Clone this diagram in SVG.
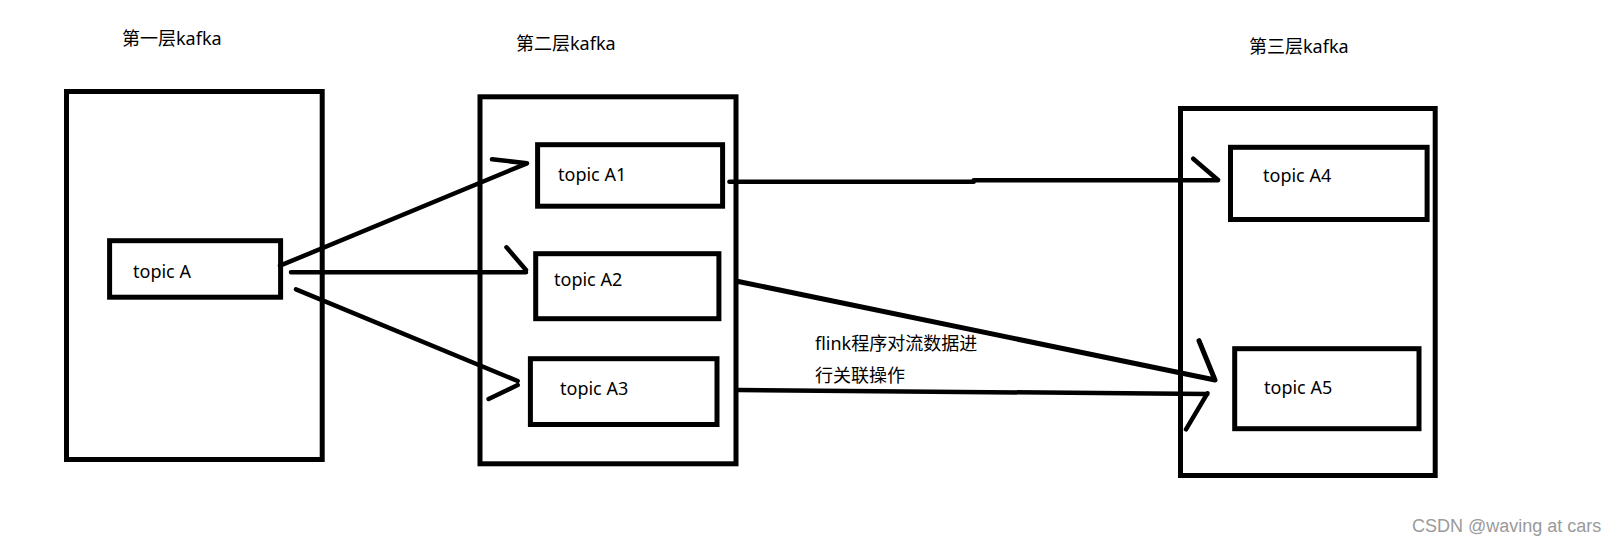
<svg xmlns="http://www.w3.org/2000/svg" width="1623" height="545" viewBox="0 0 1623 545">
<style>
.box{fill:none;stroke:#000;stroke-width:5}
.t{font-family:"Noto Sans","Noto Sans CJK SC",sans-serif;font-size:18px;fill:#000}
.c{fill:none;stroke:#000;stroke-width:4.5;stroke-linecap:round;stroke-linejoin:round}
.wm{font-family:"Liberation Sans",Arial,sans-serif;font-size:18px;fill:#9a9a9a}
</style>
<rect width="1623" height="545" fill="#fff"/>
<g id="layer1">
<text class="t" x="122" y="45">第一层kafka</text>
<rect class="box" x="66.5" y="91.5" width="255.7" height="368"/>
</g>
<g id="layer2">
<text class="t" x="516" y="50">第二层kafka</text>
<rect class="box" x="480" y="96.8" width="256" height="367"/>
</g>
<g id="layer3">
<text class="t" x="1249" y="53">第三层kafka</text>
<rect class="box" x="1180.5" y="108.5" width="254.7" height="367"/>
</g>
<g id="topicA">
<rect class="box" x="109.6" y="240.7" width="171" height="56.5"/>
<text class="t" x="133" y="278">topic A</text>
</g>
<g id="topicA1">
<rect class="box" x="537.6" y="144.7" width="185" height="61.5"/>
<text class="t" x="558" y="181">topic A1</text>
</g>
<g id="topicA2">
<rect class="box" x="535.7" y="253.7" width="183.2" height="65"/>
<text class="t" x="554" y="286">topic A2</text>
</g>
<g id="topicA3">
<rect class="box" x="530.4" y="358.7" width="186.6" height="65.8"/>
<text class="t" x="560" y="395">topic A3</text>
</g>
<g id="topicA4">
<rect class="box" x="1230.5" y="147.3" width="196.6" height="72.2"/>
<text class="t" x="1263" y="182">topic A4</text>
</g>
<g id="topicA5">
<rect class="box" x="1234.7" y="348.7" width="184.3" height="80"/>
<text class="t" x="1264" y="394">topic A5</text>
</g>
<g id="connectors">
<path class="c" d="M280,265.7 L527,163.3 M492,159.3 L527,163.3"/>
<path class="c" d="M291,272.3 L526,272.3 M506.5,247.3 L526,270"/>
<path class="c" d="M296,289.3 L517.7,381 M488.6,399 L517.7,385"/>
<path class="c" d="M729.4,181.7 L973.7,181.7 L973.7,180.3 L1218,180.3 M1193.2,158.7 L1218,180"/>
<path class="c" style="stroke-width:5" d="M738.3,281.5 L1215,380 M1199,340.7 L1215,380"/>
<path class="c" d="M738.3,390 L1207.4,394 M1186,429.3 L1207.4,393.3"/>
<text class="t" x="815" y="350">flink程序对流数据进</text>
<text class="t" x="815" y="382">行关联操作</text>
</g>
<text class="wm" x="1412" y="532">CSDN @waving at cars</text>
</svg>
